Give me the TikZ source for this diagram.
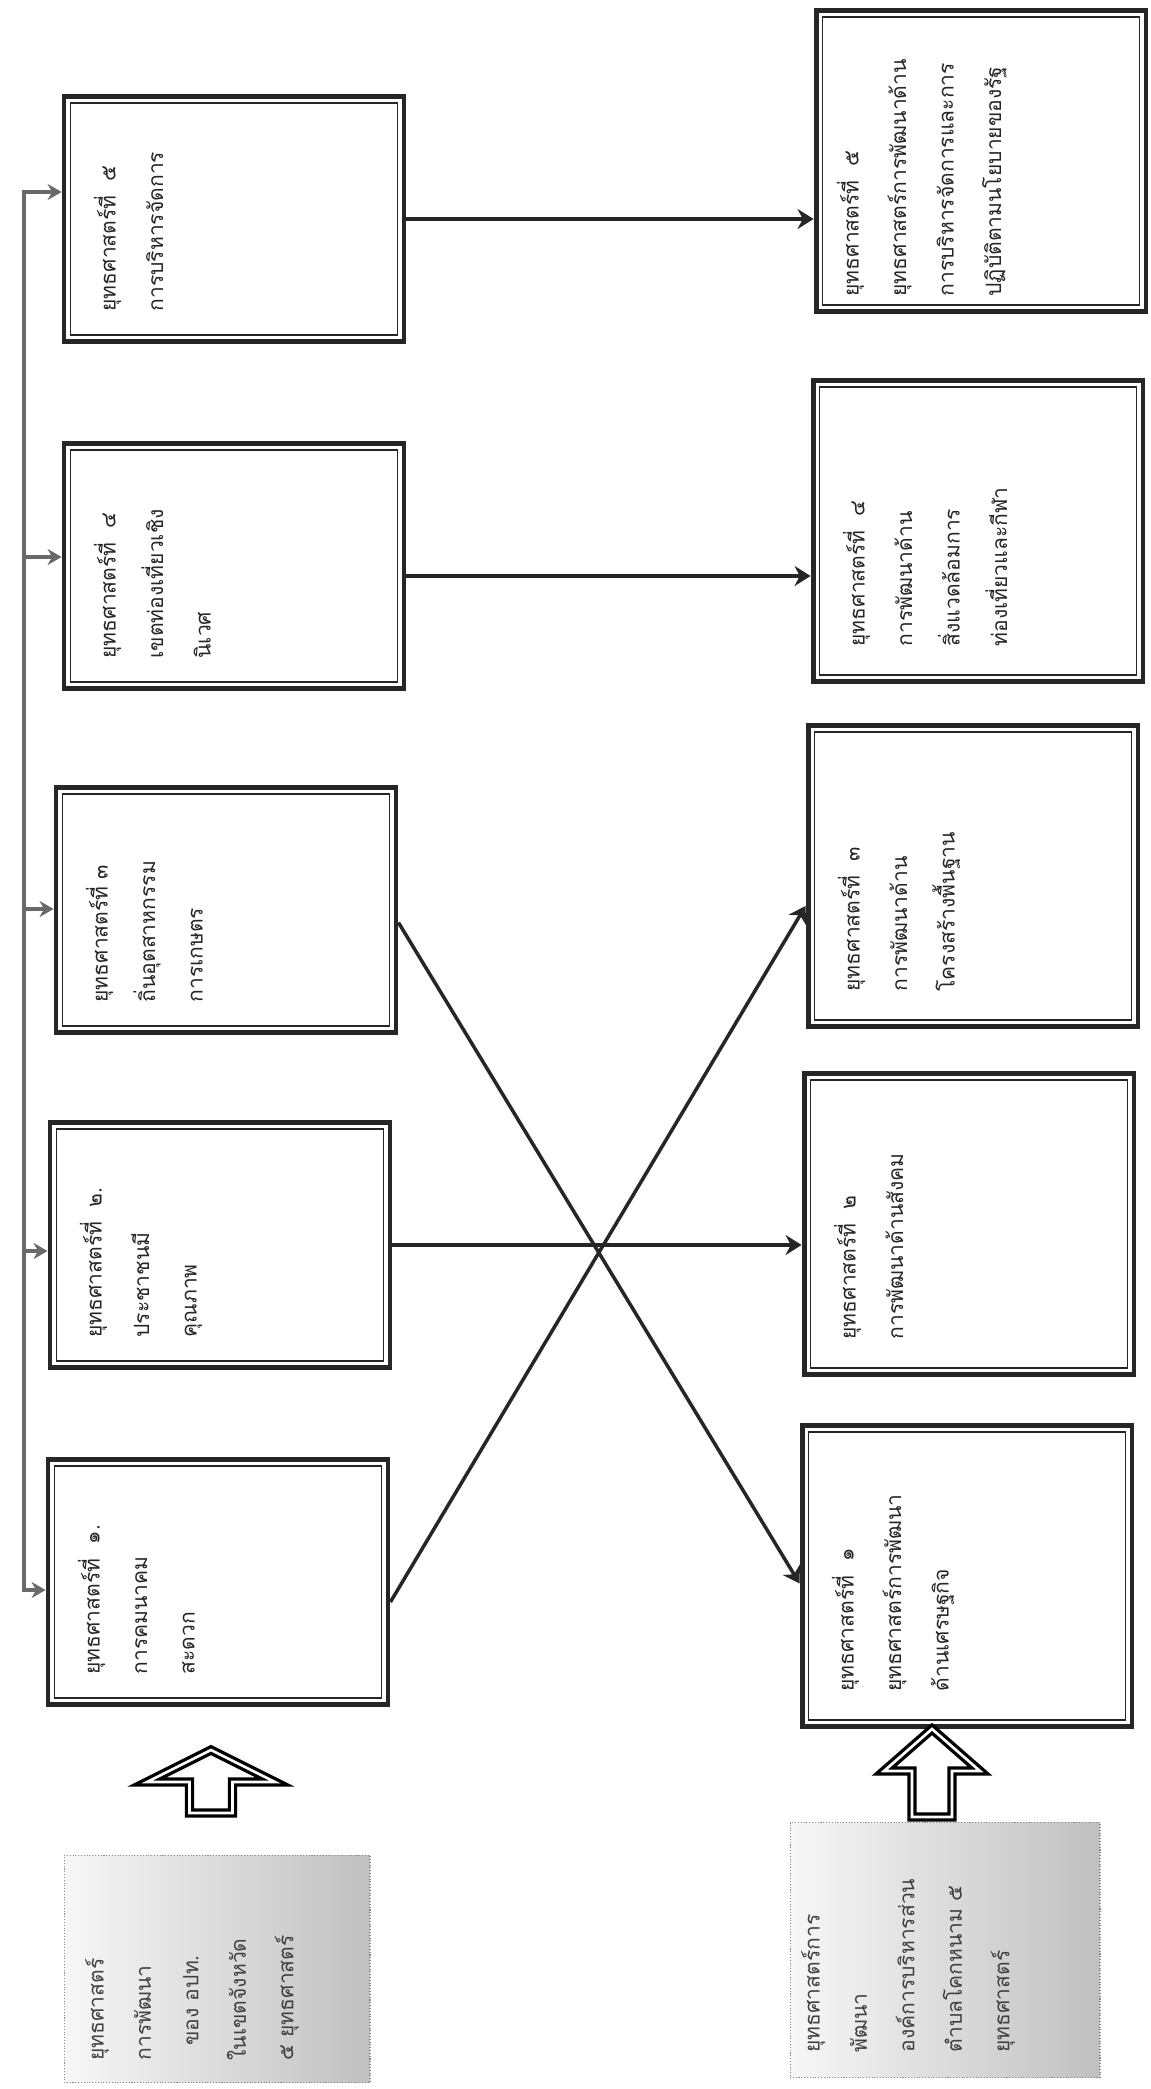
\documentclass[tikz,border=0pt]{standalone}
\usepackage{fontspec}
\usepackage{graphicx}
\newfontfamily\thaifont[Script=Thai]{Loma}
\usetikzlibrary{arrows.meta, calc}
\definecolor{stratBlack}{RGB}{38, 38, 38}
\definecolor{stratRail}{RGB}{105, 105, 105}
\definecolor{stratShade}{RGB}{192, 192, 192}
\definecolor{stratLight}{RGB}{247, 247, 247}
\newcommand{\sidetext}[3]{\rotatebox{90}{\parbox[c][#2][t]{#1}{\raggedright #3}}}

\begin{document}
\begin{tikzpicture}[
                x=0.02cm, y=-0.02cm,
                font=\thaifont\fontsize{12}{27}\selectfont,
                pbox/.style={rectangle, draw=stratBlack, fill=white, line width=2.8pt, inner xsep=0.6cm, inner ysep=0.6cm, text=stratBlack},
                lbox/.style={pbox, inner ysep=0.7cm},
                gbox/.style={rectangle, draw=black!45, densely dotted, line width=0.6pt, left color=stratLight, right color=stratShade, text=black!75},
                innerline/.style={stratBlack, line width=0.8pt},
                arrow/.style={-{Stealth[length=3.2mm, width=4mm]}, line width=2pt, stratBlack},
                rail/.style={line width=2.2pt, stratRail, line cap=rect},
                railarrow/.style={-{Stealth[length=2.8mm, width=3.2mm]}, line width=2.2pt, stratRail},
                blockarrow/.style={draw=black, line width=1.9pt, double=white, double distance=1.5pt, line join=miter}
            ]
                \useasboundingbox (0,0) rectangle (1150,2089);

                % provincial strategies
                \node[pbox] (p5) at (234,219) {\sidetext{3.7cm}{5.6cm}{ยุทธศาสตร์ที่\ \ ๕\\การบริหารจัดการ}};
                \node[pbox] (p4) at (234,566) {\sidetext{3.7cm}{5.6cm}{ยุทธศาสตร์ที่\ \ ๔\\เขตท่องเที่ยวเชิง\\นิเวศ}};
                \node[pbox] (p3) at (226,910) {\sidetext{3.7cm}{5.6cm}{ยุทธศาสตร์ที่ ๓\\ถิ่นอุตสาหกรรม\\การเกษตร}};
                \node[pbox] (p2) at (220,1245) {\sidetext{3.7cm}{5.6cm}{ยุทธศาสตร์ที่\ \ ๒.\\ประชาชนมี\\คุณภาพ}};
                \node[pbox] (p1) at (218,1582) {\sidetext{3.7cm}{5.6cm}{ยุทธศาสตร์ที่\ \ ๑.\\การคมนาคม\\สะดวก}};

                % local strategies
                \node[lbox, inner xsep=0.42cm, inner ysep=0.3cm] (l5) at (981,161) {\sidetext{5.42cm}{5.76cm}{ยุทธศาสตร์ที่\ \ ๕\\ยุทธศาสตร์การพัฒนาด้าน\\การบริหารจัดการและการ\\ปฏิบัติตามนโยบายของรัฐ}};
                \node[lbox] (l4) at (978,531) {\sidetext{4.62cm}{5.4cm}{ยุทธศาสตร์ที่\ \ ๔\\การพัฒนาด้าน\\สิ่งแวดล้อมการ\\ท่องเที่ยวและกีฬา}};
                \node[lbox] (l3) at (973,876) {\sidetext{4.62cm}{5.4cm}{ยุทธศาสตร์ที่\ \ ๓\\การพัฒนาด้าน\\โครงสร้างพื้นฐาน}};
                \node[lbox] (l2) at (969,1224) {\sidetext{4.62cm}{5.4cm}{ยุทธศาสตร์ที่\ \ ๒\\การพัฒนาด้านสังคม}};
                \node[lbox] (l1) at (967,1576) {\sidetext{4.62cm}{5.4cm}{ยุทธศาสตร์ที่\ \ ๑\\ยุทธศาสตร์การพัฒนา\\ด้านเศรษฐกิจ}};

                \foreach \n in {p1,p2,p3,p4,p5,l1,l2,l3,l4,l5}
                    \draw[innerline] ([shift={(5pt,5pt)}]\n.south west) rectangle ([shift={(-5pt,-5pt)}]\n.north east);

                % source boxes
                \node[gbox, inner xsep=0.42cm, inner ysep=0.44cm] (g1) at (217,1969) {\sidetext{3.66cm}{5.28cm}{ยุทธศาสตร์\\การพัฒนา\\\hspace*{0.3cm}ของ อปท.\\ในเขตจังหวัด\\๕ ยุทธศาสตร์}};
                \node[gbox, inner xsep=0.22cm, inner ysep=0.5cm] (g2) at (945,1950) {\sidetext{4.1cm}{5.76cm}{ยุทธศาสตร์การ\\พัฒนา\\องค์การบริหารส่วน\\ตำบลโคกหนาม ๕\\ยุทธศาสตร์}};

                \draw[blockarrow] ($(g1.north)+(-27.5,-42)$) -- ++(0,-31) -- ++(-42.5,0) -- ++(64,-32) -- ++(64,32) -- ++(-42.5,0) -- ++(0,31) -- cycle;
                \draw[blockarrow] ($(g2.north)+(-33,-5)$) -- ++(0,-46) -- ++(-28,0) -- ++(48,-42) -- ++(48,42) -- ++(-28,0) -- ++(0,46) -- cycle;

                % rail into the provincial boxes
                \coordinate (r5) at (24,192);
                \coordinate (r4) at (24,557);
                \coordinate (r3) at (24,909);
                \coordinate (r2) at (24,1251);
                \coordinate (r1) at (24,1590);
                \draw[rail] (r5) -- (r1);
                \draw[railarrow] (r5) -- (r5 -| p5.west);
                \draw[railarrow] (r4) -- (r4 -| p4.west);
                \draw[railarrow] (r3) -- (r3 -| p3.west);
                \draw[railarrow] (r2) -- (r2 -| p2.west);
                \draw[railarrow] (r1) -- (r1 -| p1.west);

                % links
                \draw[arrow] (p5.east) -- (p5.east -| l5.west);
                \draw[arrow] ([yshift=-0.2cm]p4.east) -- ([yshift=-0.2cm]p4.east -| l4.west);
                \draw[arrow] ([yshift=-0.25cm]p3.east) -- ([yshift=-0.15cm]l1.west);
                \draw[arrow] (p2.east) -- (p2.east -| l2.west);
                \draw[arrow] ([yshift=-0.4cm]p1.east) -- ([yshift=-0.6cm]l3.west);
            \end{tikzpicture}
\end{document}
